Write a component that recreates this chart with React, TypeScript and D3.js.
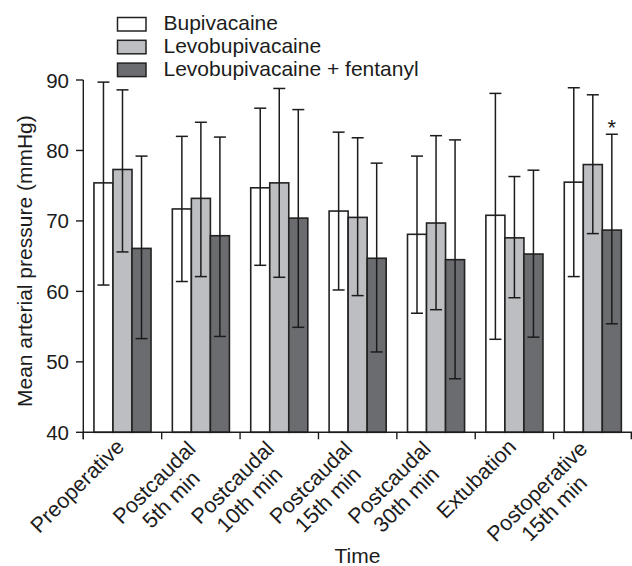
import React from "react";
import * as d3 from "d3";

const categories: string[][] = [
  ["Preoperative"],
  ["Postcaudal", "5th min"],
  ["Postcaudal", "10th min"],
  ["Postcaudal", "15th min"],
  ["Postcaudal", "30th min"],
  ["Extubation"],
  ["Postoperative", "15th min"],
];

const seriesNames = ["Bupivacaine", "Levobupivacaine", "Levobupivacaine + fentanyl"];

const bupiMean = [75.4, 71.7, 74.7, 71.4, 68.1, 70.8, 75.5];
const bupiUpper = [89.7, 82.0, 86.0, 82.6, 79.2, 88.1, 88.9];
const bupiLower = [60.9, 61.4, 63.7, 60.2, 56.9, 53.2, 62.1];

const levoMean = [77.3, 73.2, 75.4, 70.5, 69.7, 67.6, 78.0];
const levoUpper = [88.6, 84.0, 88.8, 81.8, 82.1, 76.3, 87.9];
const levoLower = [65.6, 62.1, 62.0, 59.4, 57.4, 59.1, 68.2];

const fentMean = [66.1, 67.9, 70.4, 64.7, 64.5, 65.3, 68.7];
const fentUpper = [79.2, 81.9, 85.8, 78.2, 81.5, 77.2, 82.3];
const fentLower = [53.3, 53.6, 54.9, 51.4, 47.6, 53.5, 55.4];

const yTicks = [40, 50, 60, 70, 80, 90];
const significant = [{ cat: 6, series: 2, mark: "*" }];

const colors = ["#ffffff", "#bdbec2", "#6b6c70"];

const W = 632;
const H = 566;
const FONT = "'Liberation Sans', Arial, Helvetica, sans-serif";
const INK = "#1c1c1c";

function measure(text: string, size: number): number {
  const c = document.createElement("canvas").getContext("2d");
  if (!c) return text.length * size * 0.5;
  c.font = `${size}px 'Liberation Sans', Arial, sans-serif`;
  return c.measureText(text).width;
}

export default function App() {
  const catKeys = categories.map((c) => c.join(" "));
  const x0 = d3.scaleBand<string>().domain(catKeys).range([83.3, 632]).padding(0);
  const x1 = d3
    .scaleBand<string>()
    .domain(seriesNames)
    .range([0, x0.bandwidth()])
    .paddingInner(0)
    .paddingOuter(0.56);
  const y = d3.scaleLinear().domain([40, 90]).range([432.3, 80]);

  const series = [
    { name: seriesNames[0], mean: bupiMean, up: bupiUpper, lo: bupiLower },
    { name: seriesNames[1], mean: levoMean, up: levoUpper, lo: levoLower },
    { name: seriesNames[2], mean: fentMean, up: fentUpper, lo: fentLower },
  ];

  const labelSize = 21.5;
  const capW = 12;

  return (
    <svg
      width={W}
      height={H}
      style={{ position: "absolute", left: 0, top: 0, background: "#fff" }}
      fontFamily={FONT}
    >
      {/* bars */}
      {catKeys.map((ck, i) => (
        <g key={ck} transform={`translate(${x0(ck)},0)`}>
          {series.map((s, j) => (
            <rect
              key={s.name}
              x={x1(s.name)}
              y={y(s.mean[i])}
              width={x1.bandwidth()}
              height={y(40) - y(s.mean[i])}
              fill={colors[j]}
              stroke="#222"
              strokeWidth={1.6}
            />
          ))}
          {series.map((s, j) => {
            const cx = (x1(s.name) as number) + x1.bandwidth() / 2;
            return (
              <g key={s.name + "e"} stroke={INK} strokeWidth={1.5}>
                <line x1={cx} x2={cx} y1={y(s.up[i])} y2={y(s.lo[i])} />
                <line x1={cx - capW / 2} x2={cx + capW / 2} y1={y(s.up[i])} y2={y(s.up[i])} />
                <line x1={cx - capW / 2} x2={cx + capW / 2} y1={y(s.lo[i])} y2={y(s.lo[i])} />
              </g>
            );
          })}
        </g>
      ))}

      {/* significance marks */}
      {significant.map((m, k) => {
        const s = series[m.series];
        const cx = (x0(catKeys[m.cat]) as number) + (x1(s.name) as number) + x1.bandwidth() / 2;
        return (
          <text key={k} x={cx} y={y(s.up[m.cat]) + 1} textAnchor="middle" fontSize={22} fill={INK}>
            {m.mark}
          </text>
        );
      })}

      {/* y axis */}
      <line x1={83.3} x2={83.3} y1={y(90)} y2={y(40) + 7} stroke={INK} strokeWidth={1.4} />
      {yTicks.map((t) => (
        <g key={t}>
          <line x1={76} x2={83.3} y1={y(t)} y2={y(t)} stroke={INK} strokeWidth={1.4} />
          <text x={69} y={y(t) + 7.5} textAnchor="end" fontSize={20.5} fill={INK}>
            {t}
          </text>
        </g>
      ))}
      <text
        transform={`translate(32,${(y(40) + y(90)) / 2 + 5}) rotate(-90)`}
        textAnchor="middle"
        fontSize={21}
        fill={INK}
      >
        Mean arterial pressure (mmHg)
      </text>

      {/* x axis */}
      <line x1={83.3} x2={632} y1={y(40)} y2={y(40)} stroke={INK} strokeWidth={1.4} />
      {catKeys.map((ck) => (
        <line
          key={ck + "t"}
          x1={x0(ck)}
          x2={x0(ck)}
          y1={y(40)}
          y2={y(40) + 7}
          stroke={INK}
          strokeWidth={1.4}
        />
      ))}
      <line x1={631.3} x2={631.3} y1={y(40)} y2={y(40) + 7} stroke={INK} strokeWidth={1.4} />

      {categories.map((lines, i) => {
        const cx = (x0(catKeys[i]) as number) + x0.bandwidth() / 2;
        const single = lines.length === 1;
        const px = cx + (single ? 3 : -4);
        const py = single ? 448 : 450;
        const w0 = measure(lines[0], labelSize);
        return (
          <text
            key={catKeys[i] + "l"}
            transform={`translate(${px},${py}) rotate(-45)`}
            fontSize={labelSize}
            fill={INK}
          >
            {lines.map((ln, k) =>
              k === 0 ? (
                <tspan key={k} x={0} y={0} textAnchor="end">
                  {ln}
                </tspan>
              ) : (
                <tspan key={k} x={-w0 / 2} y={k * 24} textAnchor="middle">
                  {ln}
                </tspan>
              )
            )}
          </text>
        );
      })}
      <text x={357.5} y={563} textAnchor="middle" fontSize={21} fill={INK}>
        Time
      </text>

      {/* legend */}
      {seriesNames.map((n, j) => (
        <g key={n + "lg"} transform={`translate(117.5,${17.5 + j * 22.8})`}>
          <rect width={28.5} height={13.5} fill={colors[j]} stroke="#222" strokeWidth={1.5} />
          <text x={46} y={12.5} fontSize={21} fill={INK}>
            {n}
          </text>
        </g>
      ))}
    </svg>
  );
}
